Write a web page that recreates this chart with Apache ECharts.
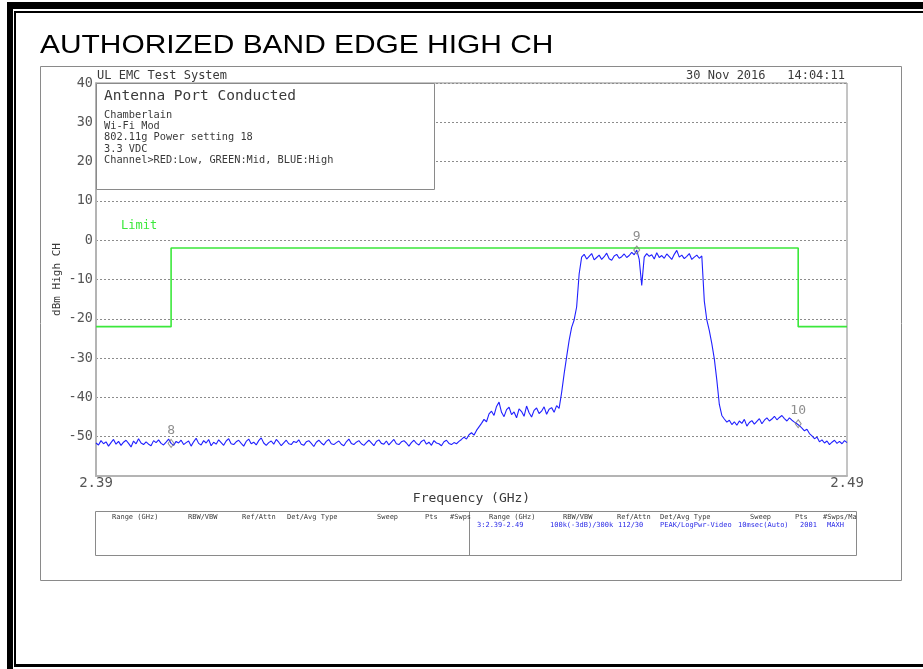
<!DOCTYPE html>
<html>
<head>
<meta charset="utf-8">
<script src="https://cdn.jsdelivr.net/npm/echarts@6/dist/echarts.min.js"></script>
<style>
  html, body { margin: 0; padding: 0; background: #fff; }
  #chart { width: 923px; height: 669px; }
</style>
</head>
<body>
<div id="chart"></div>
<script>
// Sweep definition (GHz)
const startGHz = 2.39;
const stopGHz = 2.49;

// Max-hold trace, dBm, sampled evenly across the sweep
const traceDbm = [
  -51.6, -52.1, -51.0, -51.8, -51.3, -52.4, -51.5, -50.7, -51.9, -51.2,
  -52.2, -51.4, -50.9, -51.7, -52.6, -51.1, -51.8, -50.5, -51.6, -52.0,
  -51.3, -51.9, -52.3, -51.0, -51.5, -50.8, -51.7, -52.1, -51.4, -50.6,
  -51.7, -52.2, -51.2, -51.6, -50.9, -52.0, -51.5, -51.1, -52.4, -51.3,
  -50.4, -51.7, -52.1, -51.0, -51.6, -50.7, -52.3, -51.4, -51.9, -50.8,
  -51.5, -52.2, -51.1, -50.5, -51.8, -52.0, -51.3, -50.9, -51.7, -52.4,
  -51.2, -50.6, -51.8, -51.4, -52.1, -51.0, -50.3, -51.6, -52.2, -51.5,
  -51.1, -51.9, -50.7, -51.4, -52.3, -51.6, -50.9, -51.8, -52.0, -51.2,
  -51.5, -50.8, -51.9, -52.2, -51.3, -51.0, -51.7, -52.5, -51.4, -50.9,
  -51.6, -52.1, -51.2, -50.7, -51.8, -52.0, -51.5, -51.1, -51.9, -52.3,
  -51.3, -50.6, -51.7, -52.0, -51.4, -51.0, -51.8, -52.2, -51.5, -50.9,
  -51.6, -52.3, -51.2, -50.8, -51.7, -51.9, -51.1, -52.1, -51.4, -50.7,
  -51.8, -52.0, -51.3, -51.0, -51.6, -52.4, -51.5, -50.9, -51.7, -52.1,
  -51.2, -50.8, -51.9, -51.4, -52.2, -51.0, -51.6, -51.8, -52.3, -51.3,
  -50.9, -51.7, -52.0, -51.5, -51.8,
  -51.2, -50.7, -50.1, -50.6, -49.5, -49.0, -49.6, -48.4, -47.5, -46.6,
  -45.6, -46.2, -44.2,
  -43.5, -44.6, -42.3, -41.2, -43.8, -44.9, -43.1, -42.5, -44.4, -43.7,
  -45.2, -42.9, -43.6, -44.8, -42.2, -43.9, -45.0, -43.3, -42.7, -44.1,
  -43.5, -42.4, -44.3, -43.0, -42.6, -43.8, -42.1, -42.8,
  -38.8, -34.0, -29.7, -25.5, -22.2, -20.3, -17.0, -8.6, -4.3,
  -3.6, -4.8, -4.1, -3.4, -5.0, -4.4, -3.8, -4.9, -4.2, -3.3,
  -4.7, -5.1, -4.0, -3.6, -4.6, -4.2, -3.5, -4.4, -3.9, -3.1,
  -3.7, -2.5, -4.9, -11.5, -4.3,
  -3.4, -4.1, -3.7, -4.8, -3.2, -4.4, -3.9, -4.6, -3.5, -4.2,
  -4.9, -3.6, -2.6, -4.3, -3.8, -4.7, -4.1, -3.4, -4.9, -4.3,
  -3.8, -4.6, -4.0,
  -15.5, -20.3, -23.0, -26.3, -30.2, -35.6, -41.8, -44.6,
  -45.5, -46.3, -45.8, -46.9, -46.2, -47.1, -46.0, -46.6, -45.6, -47.3,
  -46.4, -45.9, -46.8, -46.1, -45.4, -46.7, -45.8, -45.2, -46.0, -45.5,
  -44.8, -45.7, -45.1, -44.6, -45.4, -46.0, -45.2, -45.8, -46.3, -46.7,
  -47.2, -47.8, -48.5, -48.1, -49.2, -49.8, -50.5, -50.1,
  -51.3, -50.8, -51.6, -51.1, -52.0, -51.4, -50.9, -51.7, -51.2, -51.8,
  -51.0, -51.5
];

// Limit mask (restricted band / in-band)
const limitGHz = [2.39, 2.400, 2.400, 2.4835, 2.4835, 2.49];
const limitDbm = [-22, -22, -2, -2, -22, -22];

// Markers
const markerIds = ['8', '9', '10'];
const markerGHz = [2.400, 2.462, 2.4835];
const markerDbm = [-51.7, -2.5, -46.7];

// Axes
const yMin = -60, yMax = 40, yStep = 10;
const xTickLabels = [2.39, 2.49];

// Annotation text
const titleText = 'AUTHORIZED BAND EDGE HIGH CH';
const systemText = 'UL EMC Test System';
const dateText = '30 Nov 2016   14:04:11';
const infoTitle = 'Antenna Port Conducted';
const infoLines = [
  'Chamberlain',
  'Wi-Fi Mod',
  '802.11g Power setting 18',
  '3.3 VDC',
  'Channel>RED:Low, GREEN:Mid, BLUE:High'
];
const tableHeaders = ['Range (GHz)', 'RBW/VBW', 'Ref/Attn', 'Det/Avg Type', 'Sweep', 'Pts', '#Swps/Max'];
const tableValues = ['3:2.39-2.49', '100k(-3dB)/300k', '112/30', 'PEAK/LogPwr-Video', '10msec(Auto)', '2001', 'MAXH'];

// ---- build ----
const stepGHz = (stopGHz - startGHz) / (traceDbm.length - 1);
const traceData = traceDbm.map((v, i) => [startGHz + i * stepGHz, v]);
const limitData = limitGHz.map((f, i) => [f, limitDbm[i]]);
const markerData = markerGHz.map((f, i) => ({ value: [f, markerDbm[i]], name: markerIds[i] }));

const MONO = '"DejaVu Sans Mono", "Liberation Mono", monospace';
const TXT = '#3a3a3a';

const graphics = [];

// document frame
graphics.push(
  { type: 'rect', shape: { x: 7, y: 2, width: 916, height: 7 }, style: { fill: '#000' }, silent: true },
  { type: 'rect', shape: { x: 7, y: 2, width: 6, height: 667 }, style: { fill: '#000' }, silent: true },
  { type: 'rect', shape: { x: 14, y: 11, width: 909, height: 2 }, style: { fill: '#000' }, silent: true },
  { type: 'rect', shape: { x: 14, y: 11, width: 2, height: 656 }, style: { fill: '#000' }, silent: true },
  { type: 'rect', shape: { x: 14, y: 664, width: 909, height: 3 }, style: { fill: '#000' }, silent: true }
);

// title
graphics.push({
  type: 'text', x: 40, y: 59, scaleX: 1.15,
  style: { text: titleText, fill: '#000', font: '26px "Liberation Sans", Arial, sans-serif', textVerticalAlign: 'bottom' },
  silent: true
});

// panel
graphics.push({
  type: 'rect', shape: { x: 40.5, y: 66.5, width: 861, height: 514 },
  style: { fill: 'none', stroke: '#8a8a8a', lineWidth: 1 }, silent: true
});

graphics.push(
  { type: 'text', x: 97, y: 76, style: { text: systemText, fill: TXT, font: '12px ' + MONO, textVerticalAlign: 'middle' }, silent: true },
  { type: 'text', x: 845, y: 76, style: { text: dateText, fill: TXT, font: '12px ' + MONO, textAlign: 'right', textVerticalAlign: 'middle' }, silent: true }
);

// info box
graphics.push({
  type: 'rect', z: 50, shape: { x: 96.5, y: 83.5, width: 338, height: 106 },
  style: { fill: '#fff', stroke: '#8a8a8a', lineWidth: 1 }, silent: true
});
graphics.push({
  type: 'text', z: 51, x: 104, y: 96,
  style: { text: infoTitle, fill: TXT, font: '14.5px ' + MONO, textVerticalAlign: 'middle' }, silent: true
});
infoLines.forEach((t, k) => {
  graphics.push({
    type: 'text', z: 51, x: 104, y: 115 + k * 11.3,
    style: { text: t, fill: TXT, font: '10.3px ' + MONO, textVerticalAlign: 'middle' }, silent: true
  });
});

// limit label
graphics.push({
  type: 'text', z: 51, x: 121, y: 226,
  style: { text: 'Limit', fill: '#3be83b', font: '12px ' + MONO, textVerticalAlign: 'middle' }, silent: true
});

// settings table
graphics.push(
  { type: 'rect', shape: { x: 95.5, y: 511.5, width: 761, height: 44 }, style: { fill: 'none', stroke: '#8a8a8a', lineWidth: 1 }, silent: true },
  { type: 'line', shape: { x1: 469.5, y1: 511.5, x2: 469.5, y2: 555.5 }, style: { stroke: '#8a8a8a', lineWidth: 1 }, silent: true }
);
const leftCols = [112, 188, 242, 287, 377, 425, 450];
const rightCols = [489, 563, 617, 660, 750, 795, 823];
const valueCols = [477, 550, 618, 660, 738, 800, 827];
tableHeaders.forEach((h, k) => {
  const shortH = k === tableHeaders.length - 1 ? h.slice(0, 5) : h;
  const rightH = k === tableHeaders.length - 1 ? h.slice(0, 8) : h;
  graphics.push(
    { type: 'text', x: leftCols[k], y: 517, style: { text: shortH, fill: TXT, font: '7px ' + MONO, textVerticalAlign: 'middle' }, silent: true },
    { type: 'text', x: rightCols[k], y: 517, style: { text: rightH, fill: TXT, font: '7px ' + MONO, textVerticalAlign: 'middle' }, silent: true }
  );
});
tableValues.forEach((v, k) => {
  graphics.push({
    type: 'text', x: valueCols[k], y: 525,
    style: { text: v, fill: '#2a2ae6', font: '7px ' + MONO, textVerticalAlign: 'middle' }, silent: true
  });
});

const chart = echarts.init(document.getElementById('chart'), null, { renderer: 'canvas' });
chart.setOption({
  animation: false,
  backgroundColor: '#fff',
  grid: {
    left: 96, top: 83, width: 751, height: 393,
    show: true, borderColor: '#8a8a8a', borderWidth: 1, backgroundColor: 'transparent'
  },
  xAxis: {
    type: 'value', min: startGHz, max: stopGHz,
    name: 'Frequency (GHz)', nameLocation: 'middle', nameGap: 16, nameMoveOverlap: false,
    nameTextStyle: { color: TXT, fontFamily: MONO, fontSize: 13 },
    axisLine: { show: true, onZero: false, lineStyle: { color: '#b4b4b4', width: 2 } },
    axisTick: { show: false },
    splitLine: { show: false },
    axisLabel: {
      customValues: xTickLabels, margin: 0,
      color: '#555', fontFamily: MONO, fontSize: 14,
      formatter: v => v.toFixed(2)
    }
  },
  yAxis: {
    type: 'value', min: yMin, max: yMax, interval: yStep,
    name: 'dBm High CH', nameLocation: 'middle', nameGap: 33, nameRotate: 90, nameMoveOverlap: false,
    nameTextStyle: { color: TXT, fontFamily: MONO, fontSize: 11 },
    axisLine: { show: true, lineStyle: { color: '#b4b4b4', width: 2 } },
    axisTick: { show: false },
    splitLine: { show: true, lineStyle: { color: '#8c8c8c', type: [2, 2], width: 1 } },
    axisLabel: {
      margin: 3, color: '#555', fontFamily: MONO, fontSize: 13.5,
      formatter: v => (v === yMin ? '' : String(v))
    }
  },
  series: [
    {
      name: 'Limit', type: 'line', data: limitData, symbol: 'none', z: 3,
      lineStyle: { color: '#3be83b', width: 1.6 }
    },
    {
      name: 'Trace', type: 'line', data: traceData, symbol: 'none', z: 4,
      lineStyle: { color: '#2020ff', width: 1.1 }
    },
    {
      name: 'Markers', type: 'scatter', data: markerData, z: 5,
      symbol: 'diamond', symbolSize: [6, 8],
      itemStyle: { color: 'rgba(0,0,0,0)', borderColor: '#777', borderWidth: 1 },
      label: {
        show: true, position: 'top', distance: 2,
        formatter: p => p.name, color: '#707070', fontFamily: MONO, fontSize: 13
      }
    }
  ],
  graphic: { elements: graphics }
});
</script>
</body>
</html>
